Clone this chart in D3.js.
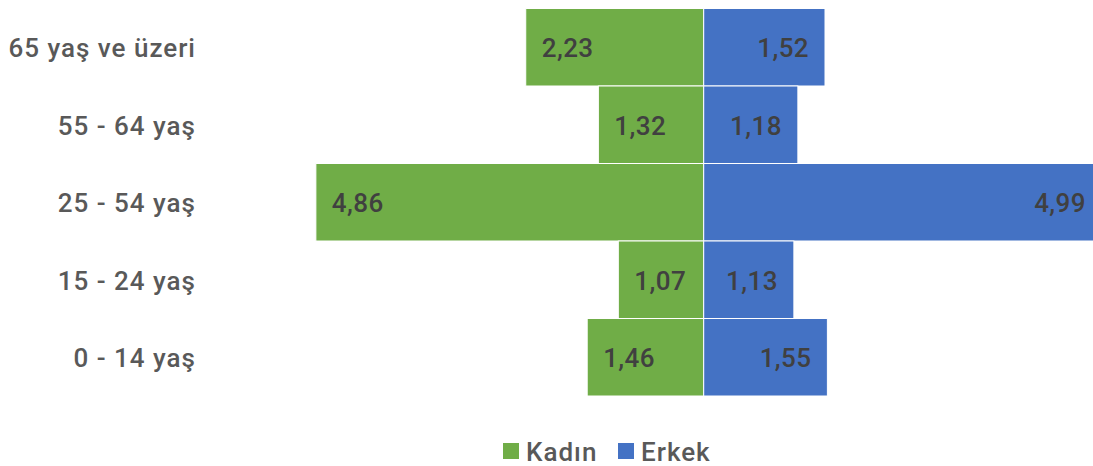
<!DOCTYPE html>
<html>
<head>
<meta charset="utf-8">
<script src="https://cdn.jsdelivr.net/npm/d3@7"></script>
<style>
  html, body { margin: 0; padding: 0; background: #fff; }
  svg { display: block; font-family: Roboto, "DejaVu Sans", sans-serif; }
</style>
</head>
<body>
<svg id="chart" width="1093" height="466"></svg>
<script>
// age pyramid: women (Kadın) to the left, men (Erkek) to the right
const ageGroups = ["65 yaş ve üzeri", "55 - 64 yaş", "25 - 54 yaş", "15 - 24 yaş", "0 - 14 yaş"];
const kadin = [2.23, 1.32, 4.86, 1.07, 1.46];
const erkek = [1.52, 1.18, 4.99, 1.13, 1.55];
const seriesNames = ["Kadın", "Erkek"];
const seriesColors = ["#70AD47", "#4472C4"];

(function () {
    const svg = d3.select("#chart");

    const x = d3.scaleLinear().domain([-5, 5]).range([304.7, 1102.7]);
    const y = d3.scaleBand().domain(ageGroups).range([8.5, 396]).padding(0);

    const fmt = v => v.toFixed(2).replace(".", ",");

    const rows = ageGroups.map((g, i) => ({ group: g, k: kadin[i], e: erkek[i] }));

    // women bars
    svg.append("g").selectAll("rect")
        .data(rows)
        .join("rect")
        .attr("x", d => x(-d.k))
        .attr("y", d => y(d.group))
        .attr("width", d => x(0) - x(-d.k))
        .attr("height", y.bandwidth())
        .attr("fill", seriesColors[0])
        .attr("stroke", "#fff")
        .attr("stroke-width", 1);

    // men bars
    svg.append("g").selectAll("rect")
        .data(rows)
        .join("rect")
        .attr("x", x(0))
        .attr("y", d => y(d.group))
        .attr("width", d => x(d.e) - x(0))
        .attr("height", y.bandwidth())
        .attr("fill", seriesColors[1])
        .attr("stroke", "#fff")
        .attr("stroke-width", 1);

    // value labels (inside end)
    svg.append("g").selectAll("text")
        .data(rows)
        .join("text")
        .attr("x", d => x(-d.k) + 16)
        .attr("y", d => y(d.group) + y.bandwidth() / 2)
        .attr("dy", ".38em")
        .attr("text-anchor", "start")
        .style("font-size", "26px")
        .style("font-weight", 500)
        .style("letter-spacing", "0.4px")
        .style("fill", "#404040")
        .text(d => fmt(d.k));

    svg.append("g").selectAll("text")
        .data(rows)
        .join("text")
        .attr("x", d => x(d.e) - 16)
        .attr("y", d => y(d.group) + y.bandwidth() / 2)
        .attr("dy", ".38em")
        .attr("text-anchor", "end")
        .style("font-size", "26px")
        .style("font-weight", 500)
        .style("letter-spacing", "0.4px")
        .style("fill", "#404040")
        .text(d => fmt(d.e));

    // category axis
    const axis = svg.append("g")
        .attr("transform", "translate(196,0)")
        .call(d3.axisLeft(y).tickSize(0).tickPadding(0));
    axis.select(".domain").remove();
    axis.selectAll("text")
        .attr("dy", ".38em")
        .style("font-family", "Roboto, sans-serif")
        .style("font-size", "26px")
        .style("font-weight", 500)
        .style("letter-spacing", "1px")
        .style("fill", "#595959");

    // legend
    const legend = svg.append("g").attr("transform", "translate(503,443)");
    const items = [{ name: seriesNames[0], color: seriesColors[0], dx: 0 },
                   { name: seriesNames[1], color: seriesColors[1], dx: 115 }];
    const li = legend.selectAll("g").data(items).join("g")
        .attr("transform", d => `translate(${d.dx},0)`);
    li.append("rect").attr("width", 16).attr("height", 16).attr("fill", d => d.color);
    li.append("text")
        .attr("x", 23)
        .attr("y", 8)
        .attr("dy", ".38em")
        .style("font-size", "26px")
        .style("font-weight", 500)
        .style("letter-spacing", "1px")
        .style("fill", "#595959")
        .text(d => d.name);
})();
</script>
</body>
</html>
